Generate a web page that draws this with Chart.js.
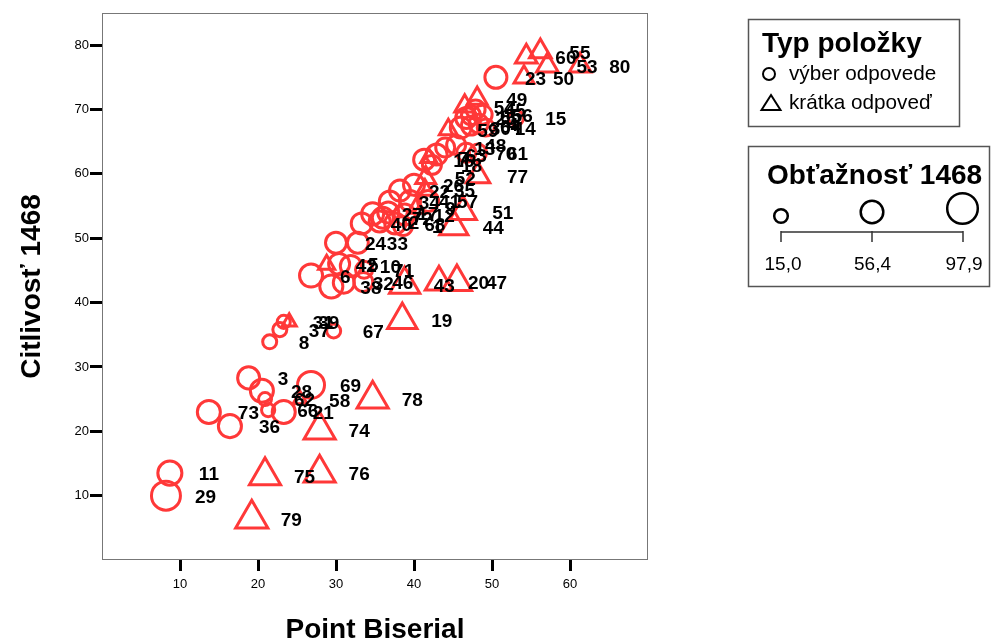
<!DOCTYPE html>
<html><head><meta charset="utf-8">
<script src="https://cdn.jsdelivr.net/npm/chart.js@4.4.1/dist/chart.umd.min.js"></script>
<style>
html,body{margin:0;padding:0;background:#fff;}
#wrap{position:relative;width:993px;height:644px;overflow:hidden;font-family:"Liberation Sans",Arial,sans-serif;}
#c{position:absolute;left:0;top:0;}
#lg{position:absolute;left:0;top:0;pointer-events:none;}
.t{position:absolute;white-space:nowrap;color:#000;line-height:1;}
.b{font-weight:bold;}
.ctr{transform:translateX(-50%);}
</style></head><body>
<div id="wrap">
<canvas id="c" width="993" height="644"></canvas>
<svg id="lg" width="993" height="644">
  <rect x="748.5" y="19.5" width="211" height="107" fill="none" stroke="#555" stroke-width="1.5"/>
  <rect x="748.5" y="146.5" width="241" height="140" fill="none" stroke="#555" stroke-width="1.5"/>
  <circle cx="769" cy="74" r="6" fill="none" stroke="#000" stroke-width="2"/>
  <polygon points="771,95 780.5,110 761.5,110" fill="none" stroke="#000" stroke-width="2"/>
  <circle cx="781" cy="216" r="6.8" fill="none" stroke="#000" stroke-width="2.5"/>
  <circle cx="872" cy="212" r="11.3" fill="none" stroke="#000" stroke-width="2.5"/>
  <circle cx="962.5" cy="208.5" r="15.3" fill="none" stroke="#000" stroke-width="2.5"/>
  <path d="M781 232 H963 M781 231 V242 M872 231 V242 M963 231 V242" fill="none" stroke="#333" stroke-width="1.5"/>
</svg>
<div class="t b" style="left:762px;top:29px;font-size:28px;">Typ položky</div>
<div class="t" style="left:789px;top:63px;font-size:20.7px;">výber odpovede</div>
<div class="t" style="left:789px;top:92px;font-size:20.7px;">krátka odpoveď</div>
<div class="t b" style="left:767px;top:161px;font-size:28px;">Obťažnosť 1468</div>
<div class="t ctr" style="left:783px;top:254px;font-size:19px;">15,0</div>
<div class="t ctr" style="left:872.5px;top:254px;font-size:19px;">56,4</div>
<div class="t ctr" style="left:964px;top:254px;font-size:19px;">97,9</div>
</div>
<script>
// ---- data ----
const itemIds = [1,2,3,4,5,6,7,8,9,10,11,12,13,14,15,16,17,18,19,20,21,22,23,24,25,26,27,28,29,30,31,32,33,34,35,36,37,38,39,40,41,42,43,44,45,46,47,48,49,50,51,52,53,54,55,56,57,58,59,60,61,62,63,64,65,66,67,68,69,70,71,72,73,74,75,76,77,78,79,80];
// V = výber odpovede (circle), K = krátka odpoveď (triangle)
const itemType = ['V','V','V','V','V','V','K','V','K','V','V','V','V','V','V','V','V','V','K','K','V','V','V','V','V','V','V','V','V','V','V','V','V','V','K','V','V','V','K','V','V','K','K','K','V','V','K','V','K','K','K','K','K','K','K','V','V','K','K','K','V','V','V','V','V','V','V','V','V','V','V','V','V','K','K','K','K','K','K','K'];
const pointBiserial = [38.6,35.6,18.8,48.3,30.4,26.8,41.9,21.5,40.3,31.9,8.7,38.8,44.0,49.2,53.1,41.3,36.7,42.3,38.5,43.2,23.3,38.2,50.5,30.0,46.7,40.0,34.7,20.5,8.2,46.0,23.3,31.0,32.8,36.9,41.4,16.4,22.8,29.4,24.0,33.3,39.5,28.8,38.8,45.1,47.9,33.5,45.5,45.4,48.1,54.1,46.3,41.5,57.1,46.5,56.2,48.8,41.8,25.4,44.4,54.4,48.2,20.9,42.9,47.3,47.3,21.3,29.7,37.6,26.8,46.7,33.6,36.0,13.7,27.9,20.9,27.9,48.2,34.7,19.2,61.3];
const sensitivity = [51.9,52.6,28.3,67.8,46.0,44.2,62.5,33.9,54.7,45.7,13.5,53.7,64.1,67.2,68.7,62.2,54.0,61.4,37.3,43.2,23.0,57.4,75.0,49.3,68.7,58.3,53.8,26.3,10.0,67.2,37.0,43.1,49.3,55.7,57.5,20.8,35.8,42.5,37.0,52.3,55.8,45.9,42.8,51.8,70.0,43.2,43.2,64.5,71.7,75.0,54.1,59.4,76.8,70.5,79.0,69.2,55.8,24.9,66.9,78.2,63.3,25.0,63.0,67.5,69.1,23.3,35.6,52.3,27.2,63.3,45.1,53.2,23.0,20.2,13.1,13.5,59.7,25.0,6.4,76.8];
const difficulty = [44,54,59,44,54,64,25,20,33,54,69,54,44,35,25,54,54,44,85,76,64,54,59,54,54,54,59,64,93,54,15.5,54,54,54,33,64,20,64,15.5,54,54,25,89,80,44,44,85,44,42,42,72,42,50,42,50,44,54,16,33,50,35,15.0,54,44,44,16,20,54,83,44,35,54,64,93,93,93,59,93,97.9,50];
const xTicks = [10,20,30,40,50,60];
const yTicks = [10,20,30,40,50,60,70,80];

const RED = '#ff3838';
const FONT = '"Liberation Sans", Arial, sans-serif';
function outerR(d){ return 8 + 0.1025*(d-15); }
function circleR(d){ return outerR(d) - 1.5; }
function triR(d){ return 1.24*(outerR(d) - 1.5); }

function build(type){
  const idx = itemIds.map((_,i)=>i).filter(i=>itemType[i]===type);
  return {
    label: type==='V' ? 'výber odpovede' : 'krátka odpoveď',
    data: idx.map(i=>({x: pointBiserial[i], y: sensitivity[i]})),
    ids: idx.map(i=>String(itemIds[i])),
    pointStyle: type==='V' ? 'circle' : 'triangle',
    pointRadius: idx.map(i=> type==='V' ? circleR(difficulty[i]) : triR(difficulty[i])),
    pointHoverRadius: idx.map(i=> type==='V' ? circleR(difficulty[i]) : triR(difficulty[i])),
    pointBorderColor: RED, borderColor: RED,
    pointBackgroundColor: 'rgba(0,0,0,0)', backgroundColor: 'rgba(0,0,0,0)',
    pointBorderWidth: 3, borderWidth: 3,
    showLine: false, clip: false
  };
}

const framePlugin = {
  id: 'frame',
  beforeDatasetsDraw(chart){
    const {ctx, chartArea:a} = chart;
    ctx.save();
    ctx.strokeStyle = '#777'; ctx.lineWidth = 1;
    ctx.strokeRect(a.left+0.5, a.top+0.5, a.right-a.left-1, a.bottom-a.top-1);
    ctx.restore();
  }
};
const labelPlugin = {
  id: 'ptLabels',
  afterDatasetsDraw(chart){
    const ctx = chart.ctx;
    ctx.save();
    ctx.font = 'bold 19px ' + FONT;
    ctx.fillStyle = '#000';
    ctx.textAlign = 'left';
    ctx.textBaseline = 'middle';
    chart.data.datasets.forEach((ds, i) => {
      chart.getDatasetMeta(i).data.forEach((el, j) => {
        ctx.fillText(ds.ids[j], el.x + 29, el.y + 2);
      });
    });
    ctx.restore();
  }
};

new Chart(document.getElementById('c'), {
  type: 'scatter',
  data: { datasets: [build('V'), build('K')] },
  plugins: [framePlugin, labelPlugin],
  options: {
    responsive: false, animation: false, events: [],
    layout: { autoPadding: false, padding: { left: 0, top: 13, right: 345, bottom: 0 } },
    plugins: { legend: { display: false }, tooltip: { enabled: false } },
    scales: {
      x: {
        type: 'linear', min: 0, max: 70,
        afterBuildTicks: s => { s.ticks = xTicks.map(v => ({value: v})); },
        afterFit: s => { s.height = 84; s.paddingLeft = 0; s.paddingRight = 0; },
        grid: { drawOnChartArea: false, drawTicks: true, tickLength: 11, tickWidth: 3, tickColor: '#000', lineWidth: 3, color: '#000' },
        border: { display: false },
        ticks: { padding: 6, color: '#000', font: { family: FONT, size: 13 }, autoSkip: false, maxRotation: 0, callback: v => String(v) },
        title: { display: true, text: 'Point Biserial', color: '#000', font: { family: FONT, size: 28, weight: 'bold', lineHeight: 1 }, padding: { top: 0, bottom: 0 } }
      },
      y: {
        type: 'linear', min: 0, max: 85,
        afterBuildTicks: s => { s.ticks = yTicks.map(v => ({value: v})); },
        afterFit: s => { s.width = 102; s.paddingTop = 0; s.paddingBottom = 0; },
        grid: { drawOnChartArea: false, drawTicks: true, tickLength: 12, tickWidth: 3, tickColor: '#000', lineWidth: 3, color: '#000' },
        border: { display: false },
        ticks: { padding: 1, color: '#000', font: { family: FONT, size: 13 }, autoSkip: false, callback: v => String(v) },
        title: { display: true, text: 'Citlivosť 1468', color: '#000', font: { family: FONT, size: 28, weight: 'bold', lineHeight: 1 }, padding: { top: 18, bottom: 0 } }
      }
    }
  }
});
</script>
</body></html>
